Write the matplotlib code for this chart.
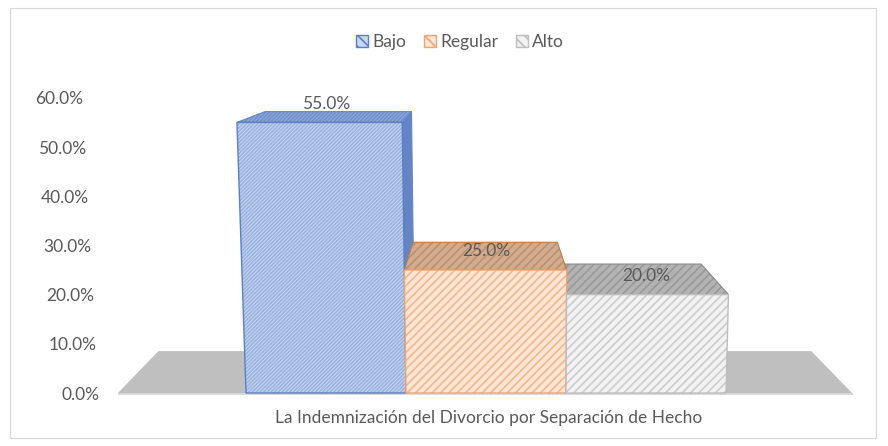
import matplotlib.pyplot as plt
from matplotlib.patches import Polygon, Patch, Rectangle
from matplotlib.transforms import ScaledTranslation

plt.rcParams['font.family'] = ['Lato', 'DejaVu Sans']
plt.rcParams['hatch.linewidth'] = 1.2

# data
series = ['Bajo', 'Regular', 'Alto']
values = [55.0, 25.0, 20.0]
yticks = [0, 10, 20, 30, 40, 50, 60]
xlabel = 'La Indemnización del Divorcio por Separación de Hecho'

# style per series
front_bg = ['#c9d8f1', '#fde6d5', '#f2f2f2']
front_hatch = ['#9ab3df', '#f5b78c', '#cdcdcd']
top_bg = ['#93acdb', '#d2ac8d', '#b3b3b3']
top_hatch = ['#7191cc', '#ba9271', '#999999']
side_col = ['#6584c6', '#c07a45', '#8a8a8a']
edge_col = ['#5b7fc4', '#f0a574', '#bdbdbd']
hatches = ['/////////', '////', '////']
legend_hatch = ['\\\\\\', '\\\\\\', '\\\\\\']

# pseudo 3d projection (x in pixels, y in percent)
center = 486
bar_w = 160
vp = (485, 74)
t = 0.115
k_slant, x_slant = 0.0006, 520
text_col = '#595959'


def back(x, y):
    return (x + t * (vp[0] - x), y + t * (vp[1] - y))


def warp(pts):
    return [(x + k_slant * (x - x_slant) * y, y) for x, y in pts]


fig = plt.figure(figsize=(8.88, 4.46), dpi=100)
fig.patches.append(Rectangle((10 / 888, 8 / 446), 866 / 888, 430 / 446,
                             transform=fig.transFigure, fill=False,
                             edgecolor='#d9d9d9', lw=0.8))

ax_l, ax_r, ax_t, ax_b = 118, 870, 60, 430
ax = fig.add_axes([ax_l / 888, 1 - ax_b / 446, (ax_r - ax_l) / 888, (ax_b - ax_t) / 446])
y0_px, px_per = 393, 4.92
ax.set_xlim(ax_l, ax_r)
ax.set_ylim((y0_px - ax_b) / px_per, (y0_px - ax_t) / px_per)

# floor
fl, fr = 118, 852
ax.add_patch(Polygon(warp([(fl, 0), (fr, 0), back(fr, 0), back(fl, 0)]),
                     closed=True, facecolor='#bfbfbf', edgecolor='none', zorder=1))
ax.plot([fl, fr], [-0.25, -0.25], color='#d9d9d9', lw=1.5, zorder=1)

lefts = [center + (i - 1.5) * bar_w for i in range(len(values))]

# tops and visible sides
order = [2, 0, 1]
for i in order:
    x0, x1, v = lefts[i], lefts[i] + bar_w, values[i]
    if x1 < vp[0]:
        side = warp([(x1, 0), (x1, v), back(x1, v), back(x1, 0)])
        ax.add_patch(Polygon(side, closed=True, facecolor=side_col[i],
                             edgecolor=side_col[i], lw=0.8, zorder=2))
    top = warp([(x0, v), (x1, v), back(x1, v), back(x0, v)])
    ax.add_patch(Polygon(top, closed=True, facecolor=top_bg[i], edgecolor=top_hatch[i],
                         hatch=hatches[i], lw=0, zorder=3))
    ax.add_patch(Polygon(top, closed=True, fill=False, edgecolor=side_col[i],
                         lw=0.8, zorder=3))

# front faces
for i, v in enumerate(values):
    x0, x1 = lefts[i], lefts[i] + bar_w
    front = warp([(x0, 0), (x1, 0), (x1, v), (x0, v)])
    ax.add_patch(Polygon(front, closed=True, facecolor=front_bg[i],
                         edgecolor=front_hatch[i], hatch=hatches[i], lw=0, zorder=4))
    ax.add_patch(Polygon(front, closed=True, fill=False,
                         edgecolor=edge_col[i], lw=1.0, zorder=4))

# value labels
for i, v in enumerate(values):
    cx = lefts[i] + bar_w / 2
    mid = (v + back(cx, v)[1]) / 2
    ax.text(cx, max(mid, v + 3.8), f'{v:.1f}%', ha='center', va='center',
            fontsize=12.5, color=text_col, zorder=6)

ax.set_yticks(yticks)
ax.set_yticklabels([f'{y:.1f}%' for y in yticks], fontsize=12.5, color=text_col)
ax.tick_params(axis='y', length=0, pad=13.5)
for lab, y in zip(ax.get_yticklabels(), yticks):
    dx = -16 * y / 60 / 100
    lab.set_transform(lab.get_transform() + ScaledTranslation(dx, 0, fig.dpi_scale_trans))
ax.set_xticks([])
for s in ax.spines.values():
    s.set_visible(False)

fig.text(489 / 888, 1 - 418 / 446, xlabel, ha='center', va='center',
         fontsize=12.5, color=text_col)

handles = [Patch(facecolor=front_bg[i], edgecolor=edge_col[i], hatch=legend_hatch[i])
           for i in range(len(series))]
fig.legend(handles, series, loc='center', bbox_to_anchor=(460 / 888, 1 - 42 / 446),
           ncol=3, frameon=False, fontsize=12.5, labelcolor=text_col,
           handlelength=0.7, handleheight=0.7, handletextpad=0.25, columnspacing=1.0)

fig.savefig('out.png', dpi=100)
